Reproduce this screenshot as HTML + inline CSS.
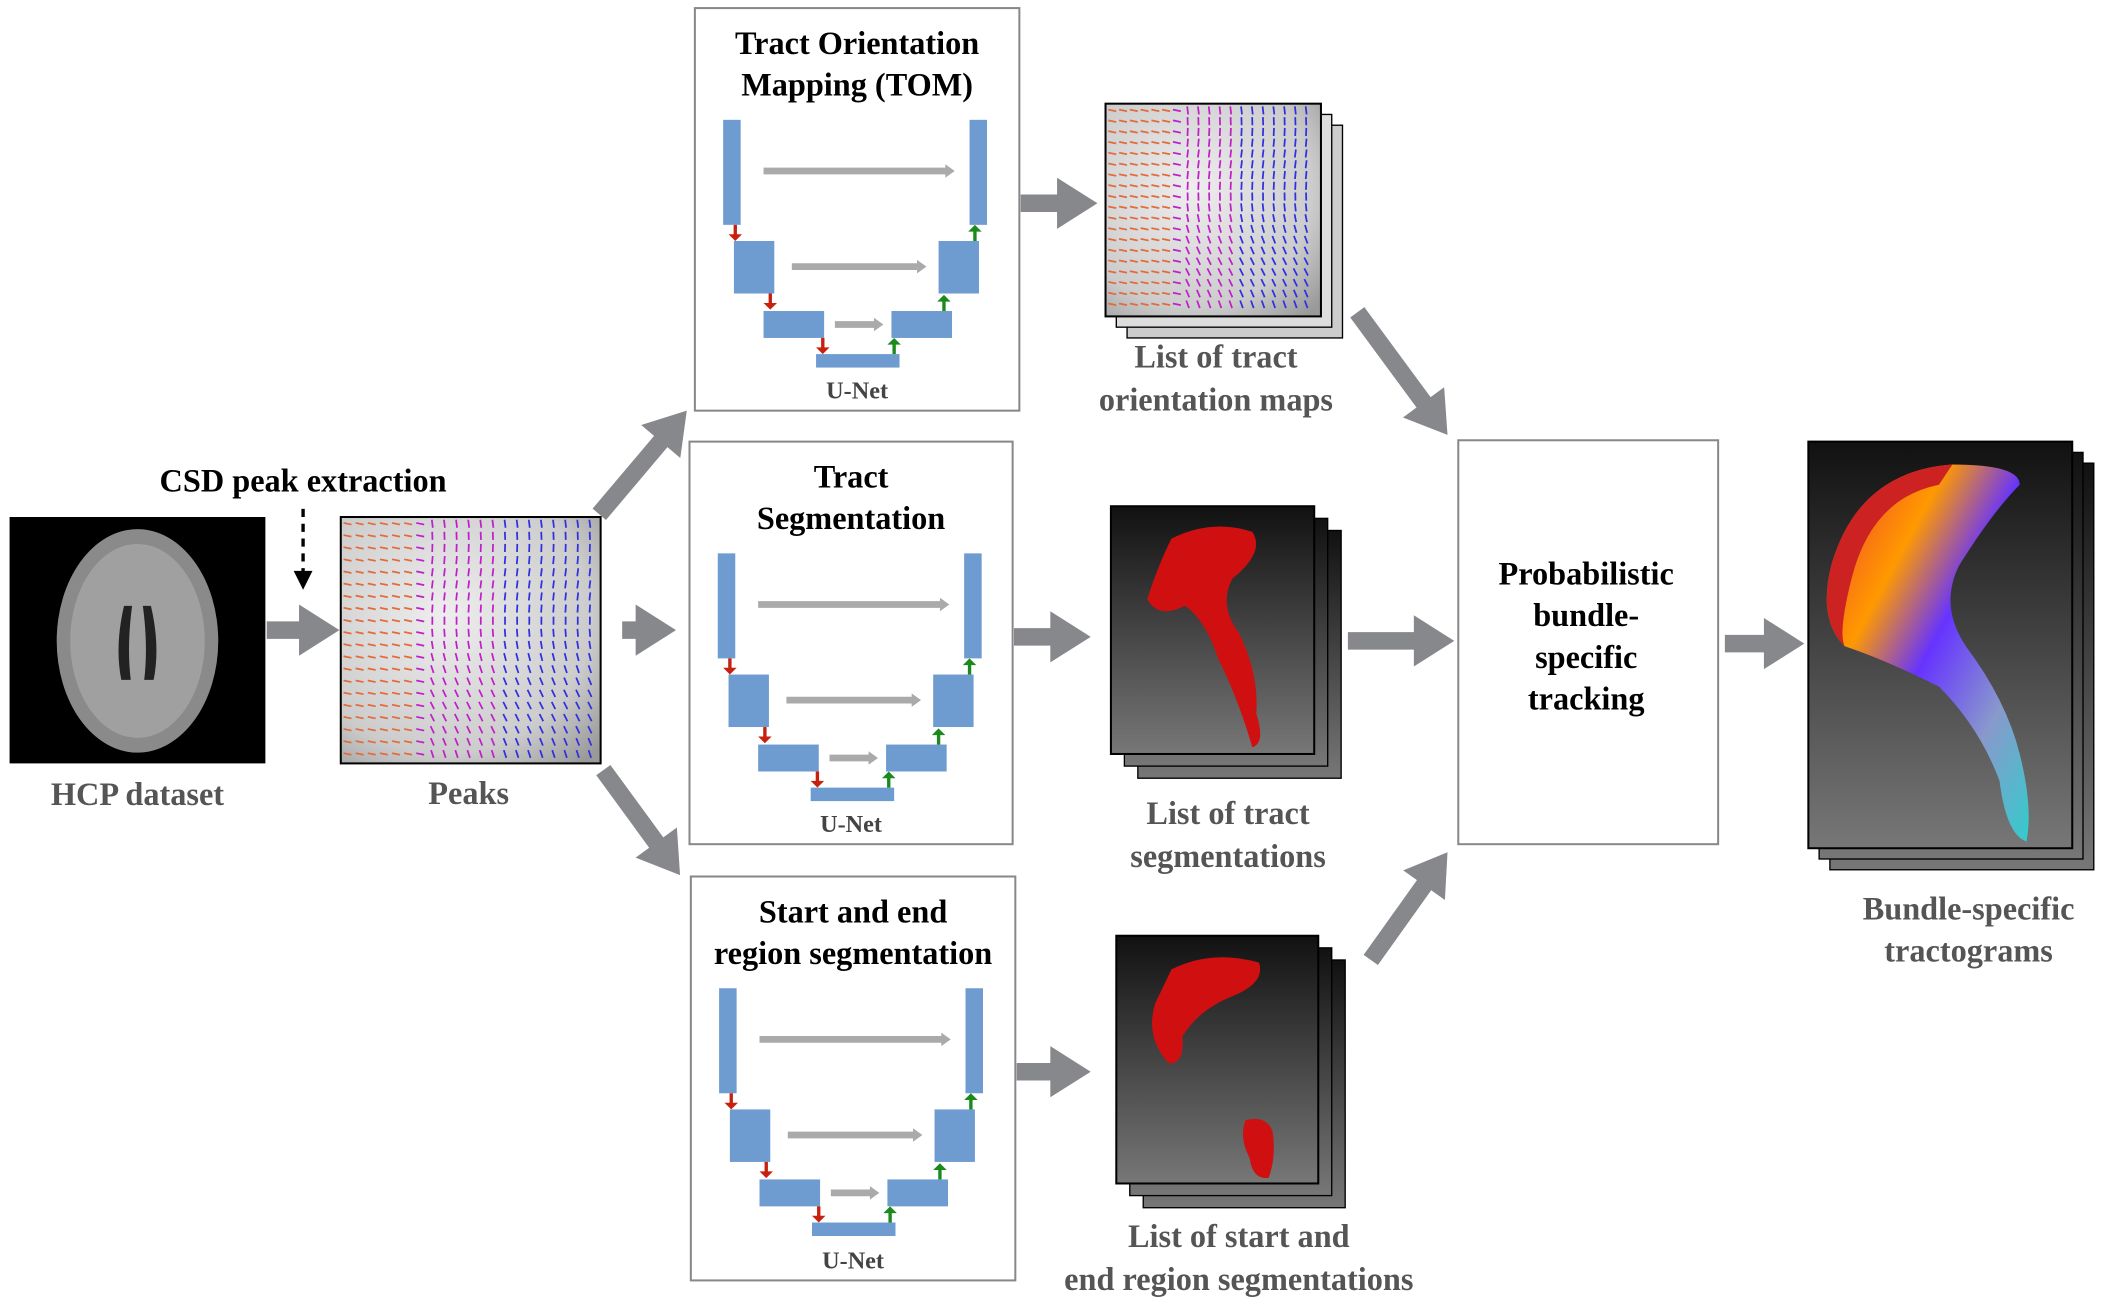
<!DOCTYPE html>
<html><head><meta charset="utf-8"><style>
html,body{margin:0;padding:0;background:#fff;}
svg{display:block;}
text{font-family:"Liberation Serif",serif;font-weight:bold;}
</style></head><body>
<svg id="fig" width="2102" height="1306" viewBox="0 0 1561 970" xmlns="http://www.w3.org/2000/svg">
<defs>
<linearGradient id="darkg" x1="0" y1="0" x2="0" y2="1"><stop offset="0" stop-color="#111"/><stop offset="1" stop-color="#777"/></linearGradient>
<linearGradient id="fib" x1="0" y1="0" x2="1" y2="1"><stop offset="0" stop-color="#e33"/><stop offset="0.3" stop-color="#f90"/><stop offset="0.5" stop-color="#63f"/><stop offset="0.75" stop-color="#89c"/><stop offset="1" stop-color="#3cc"/></linearGradient>
<radialGradient id="peakbg" cx="0.4" cy="0.4" r="0.8"><stop offset="0" stop-color="#eee"/><stop offset="0.7" stop-color="#ccc"/><stop offset="1" stop-color="#999"/></radialGradient>
</defs>

<g>
<rect x="7" y="384" width="190" height="183" fill="#000"/>
<ellipse cx="102" cy="476" rx="60" ry="83" fill="#8a8a8a"/>
<ellipse cx="102" cy="476" rx="50" ry="72" fill="#a0a0a0"/>
<path d="M92 450 Q85 480 90 505 L97 505 Q94 480 98 450Z M112 450 Q119 480 114 505 L107 505 Q110 480 106 450Z" fill="#222"/>
</g>
<text x="102" y="598" font-size="24" fill="#555" text-anchor="middle">HCP dataset</text>
<text x="225" y="365" font-size="24" fill="#000" text-anchor="middle">CSD peak extraction</text>
<line x1="225" y1="378" x2="225" y2="426" stroke="#000" stroke-width="2.5" stroke-dasharray="6,5"/>
<path d="M218 424 L232 424 L225 438Z" fill="#000"/>

<g>
<rect x="253" y="384" width="193" height="183" fill="url(#peakbg)" stroke="#000" stroke-width="1.5"/>
<g id="ticks"></g>
</g>
<text x="348" y="597" font-size="24" fill="#555" text-anchor="middle">Peaks</text>

<g id="arrows" fill="#87888b"></g>
<g id="boxes"></g>

<g>
<rect x="837" y="93" width="160" height="158" fill="#ccc" stroke="#000"/>
<rect x="829" y="85" width="160" height="158" fill="#ddd" stroke="#000"/>
<rect x="821" y="77" width="160" height="158" fill="url(#peakbg)" stroke="#000" stroke-width="1.5"/>
<g id="tomticks"></g>
</g>
<text x="903" y="273" font-size="24" fill="#555" text-anchor="middle">List of tract</text>
<text x="903" y="305" font-size="24" fill="#555" text-anchor="middle">orientation maps</text>

<g>
<rect x="845" y="394" width="151" height="184" fill="url(#darkg)" stroke="#000"/>
<rect x="835" y="385" width="151" height="184" fill="url(#darkg)" stroke="#000"/>
<rect x="825" y="376" width="151" height="184" fill="url(#darkg)" stroke="#000" stroke-width="1.5"/>
<path d="M870 400 Q900 385 930 395 Q940 410 915 430 Q905 450 920 470 Q935 500 933 530 Q940 552 930 555 Q920 520 905 490 Q895 460 880 450 Q860 460 852 445 Q860 420 870 400Z" fill="#d01010"/>
</g>
<text x="912" y="612" font-size="24" fill="#555" text-anchor="middle">List of tract</text>
<text x="912" y="644" font-size="24" fill="#555" text-anchor="middle">segmentations</text>

<g>
<rect x="849" y="713" width="150" height="184" fill="url(#darkg)" stroke="#000"/>
<rect x="839" y="704" width="150" height="184" fill="url(#darkg)" stroke="#000"/>
<rect x="829" y="695" width="150" height="184" fill="url(#darkg)" stroke="#000" stroke-width="1.5"/>
<path d="M870 720 Q900 705 935 715 Q940 730 915 740 Q890 750 878 770 Q880 790 868 790 Q850 770 858 745Z" fill="#d01010"/>
<path d="M925 832 Q940 828 945 840 Q948 860 942 875 Q930 876 928 860 Q920 845 925 832Z" fill="#d01010"/>
</g>
<text x="920" y="926" font-size="24" fill="#555" text-anchor="middle">List of start and</text>
<text x="920" y="958" font-size="24" fill="#555" text-anchor="middle">end region segmentations</text>

<rect x="1083" y="327" width="193" height="300" fill="#fff" stroke="#888" stroke-width="1.5"/>
<g font-size="24" text-anchor="middle" fill="#000">
<text x="1178" y="434">Probabilistic</text><text x="1178" y="465">bundle-</text><text x="1178" y="496">specific</text><text x="1178" y="527">tracking</text>
</g>

<g>
<rect x="1359" y="344" width="196" height="302" fill="url(#darkg)" stroke="#000"/>
<rect x="1351" y="336" width="196" height="302" fill="url(#darkg)" stroke="#000"/>
<rect x="1343" y="328" width="196" height="302" fill="url(#darkg)" stroke="#000" stroke-width="1.5"/>
<path d="M1360 420 Q1380 350 1450 345 Q1500 345 1500 360 Q1480 380 1455 420 Q1440 450 1460 480 Q1490 520 1500 560 Q1510 600 1505 625 Q1490 620 1485 580 Q1470 540 1440 510 Q1400 490 1370 480 Q1350 460 1360 420Z" fill="url(#fib)"/>
<path d="M1360 420 Q1380 350 1450 345 L1440 360 Q1390 370 1375 430 Q1365 470 1370 480 Q1350 460 1360 420Z" fill="#c22"/>
</g>
<text x="1462" y="683" font-size="24" fill="#555" text-anchor="middle">Bundle-specific</text>
<text x="1462" y="714" font-size="24" fill="#555" text-anchor="middle">tractograms</text>
</svg>
<script>
const NS="http://www.w3.org/2000/svg";
function mk(tag,attrs,parent){const e=document.createElementNS(NS,tag);for(const k in attrs)e.setAttribute(k,attrs[k]);parent.appendChild(e);return e;}
const arrowDefs=[[198,468,252,468],[445,382,510,305],[462,468,502,468],[448,572,505,650],[758,151,815,151],[753,473,810,473],[755,796,810,796],[1008,232,1075,323],[1001,476,1080,476],[1018,713,1075,633],[1281,478,1340,478]];
const ag=document.getElementById('arrows');
arrowDefs.forEach(a=>{
 const [x1,y1,x2,y2]=a;const dx=x2-x1,dy=y2-y1,L=Math.hypot(dx,dy),ux=dx/L,uy=dy/L,px=-uy,py=ux;
 const hl=30,hw=19,sw=6.5;const bx=x2-ux*hl,by=y2-uy*hl;
 const pts=[[x1+px*sw,y1+py*sw],[bx+px*sw,by+py*sw],[bx+px*hw,by+py*hw],[x2,y2],[bx-px*hw,by-py*hw],[bx-px*sw,by-py*sw],[x1-px*sw,y1-py*sw]];
 const p=mk('polygon',{points:pts.map(q=>q.join(',')).join(' ')},ag);
 
 
});
const boxes=[[516,6,241,299,["Tract Orientation","Mapping (TOM)"],'tom-unet-box'],[512,328,240,299,["Tract","Segmentation"],'segmentation-unet-box'],[513,651,241,300,["Start and end","region segmentation"],'start-end-unet-box']];
const bg=document.getElementById('boxes');
boxes.forEach(b=>{
 const [x,y,w,h,t,name]=b;const g=mk('g',{},bg);
 
 
 mk('rect',{x,y,width:w,height:h,fill:'#fff',stroke:'#888','stroke-width':1.5},g);
 const cx=x+w/2;
 t.forEach((s,i)=>{const tt=mk('text',{x:cx,y:y+34+i*31,'font-size':24,'text-anchor':'middle'},g);tt.textContent=s;});
 const ox=x+21,oy=y+83,B='#6e9bd0';
 mk('rect',{x:ox,y:oy,width:13,height:78,fill:B},g);
 mk('rect',{x:ox+183,y:oy,width:13,height:78,fill:B},g);
 mk('rect',{x:ox+8,y:oy+90,width:30,height:39,fill:B},g);
 mk('rect',{x:ox+160,y:oy+90,width:30,height:39,fill:B},g);
 mk('rect',{x:ox+30,y:oy+142,width:45,height:20,fill:B},g);
 mk('rect',{x:ox+125,y:oy+142,width:45,height:20,fill:B},g);
 mk('rect',{x:ox+69,y:oy+174,width:62,height:10,fill:B},g);
 [[30,170,38],[51,149,109],[83,117,152]].forEach(a=>{mk('line',{x1:ox+a[0],y1:oy+a[2],x2:ox+a[1]-4,y2:oy+a[2],stroke:'#aaa','stroke-width':5},g);mk('polygon',{points:`${ox+a[1]-5},${oy+a[2]-5} ${ox+a[1]+2},${oy+a[2]} ${ox+a[1]-5},${oy+a[2]+5}`,fill:'#aaa'},g);});
 [[ox+9,oy+78],[ox+35,oy+129],[ox+74,oy+162]].forEach(p=>{mk('line',{x1:p[0],y1:p[1],x2:p[0],y2:p[1]+8,stroke:'#c8200e','stroke-width':2.5},g);mk('polygon',{points:`${p[0]-5},${p[1]+7} ${p[0]+5},${p[1]+7} ${p[0]},${p[1]+12}`,fill:'#c8200e'},g);});
 [[ox+187,oy+90],[ox+164,oy+142],[ox+127,oy+174]].forEach(p=>{mk('line',{x1:p[0],y1:p[1],x2:p[0],y2:p[1]-8,stroke:'#1a8a1a','stroke-width':2.5},g);mk('polygon',{points:`${p[0]-5},${p[1]-7} ${p[0]+5},${p[1]-7} ${p[0]},${p[1]-12}`,fill:'#1a8a1a'},g);});
 const u=mk('text',{x:cx,y:y+h-9,'font-size':18,'text-anchor':'middle',fill:'#444'},g);u.textContent='U-Net';
});
function ticks(id,x0,y0,w,h,step){const g=document.getElementById(id);
 for(let yy=y0+5;yy<y0+h-3;yy+=step)for(let xx=x0+5;xx<x0+w-3;xx+=step){
  const fx=(xx-x0)/w,fy=(yy-y0)/h;const ang=fx<0.35?(0.2):(1.4+0.3*Math.sin(fy*6));
  const col=fx<0.3?'#e46a3a':(fx<0.6?'#c020c8':'#3030e0');
  mk('line',{x1:xx-3*Math.cos(ang),y1:yy-3*Math.sin(ang),x2:xx+3*Math.cos(ang),y2:yy+3*Math.sin(ang),stroke:col,'stroke-width':1.3},g);}}
ticks('ticks',253,384,193,183,9);
ticks('tomticks',821,77,160,158,8);
</script>
</body></html>
